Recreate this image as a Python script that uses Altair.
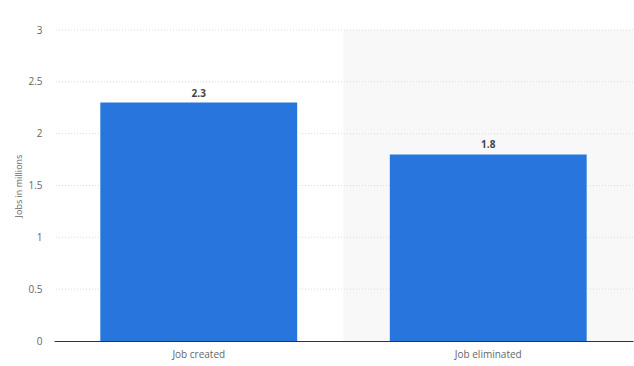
import altair as alt
import pandas as pd

categories = ["Job created", "Job eliminated"]
values = [2.3, 1.8]
highlight = ["Job eliminated"]
y_ticks = [0.5, 1, 1.5, 2, 2.5, 3]

df = pd.DataFrame({"cat": categories, "val": values})
bg = pd.DataFrame({"cat": highlight})
grid = pd.DataFrame({"t": y_ticks})

FONT = "Open Sans"

x = alt.X("cat:N", sort=categories, title=None,
          scale=alt.Scale(paddingInner=0.32, paddingOuter=0.16),
          axis=alt.Axis(labelAngle=0, labelColor="#666", labelFontSize=10, labelFont=FONT,
                        domainColor="#333", domainWidth=1, ticks=False, labelPadding=8))

y_scale = alt.Scale(domain=[0, 3])

back = alt.Chart(bg).mark_bar(color="#f8f8f8", width=alt.RelativeBandSize(1 / 0.68)).encode(
    x=x,
    y=alt.Y("top:Q", scale=y_scale, title="Jobs in millions",
            axis=alt.Axis(values=[0] + y_ticks, labelColor="#666", labelFontSize=10,
                          labelFont=FONT, titleFont=FONT, titleFontSize=9, titleColor="#666",
                          titleFontWeight="normal", domain=False, ticks=False, labelPadding=12,
                          titlePadding=4, grid=False, format="~g")),
    y2=alt.datum(0),
).transform_calculate(top="3")

rules = alt.Chart(grid).mark_rule(color="#dcdcdc", strokeDash=[1, 2], strokeWidth=1).encode(
    y=alt.Y("t:Q", scale=y_scale),
)

bars = alt.Chart(df).mark_bar(color="#2876dd").encode(
    x=x,
    y=alt.Y("val:Q", scale=y_scale),
)

labels = alt.Chart(df).mark_text(dy=-9, fontWeight="bold", fontSize=10, color="#444", font=FONT).encode(
    x=x,
    y=alt.Y("val:Q", scale=y_scale),
    text=alt.Text("val:Q", format=".1f"),
)

chart = alt.layer(back, rules, bars, labels).properties(
    width=579, height=311,
    autosize=alt.AutoSizeParams(type="none"),
    padding={"left": 54, "top": 30, "right": 1, "bottom": 25},
).configure_view(stroke=None)

chart.save("out.html", embed_options={"renderer": "svg", "actions": False})
